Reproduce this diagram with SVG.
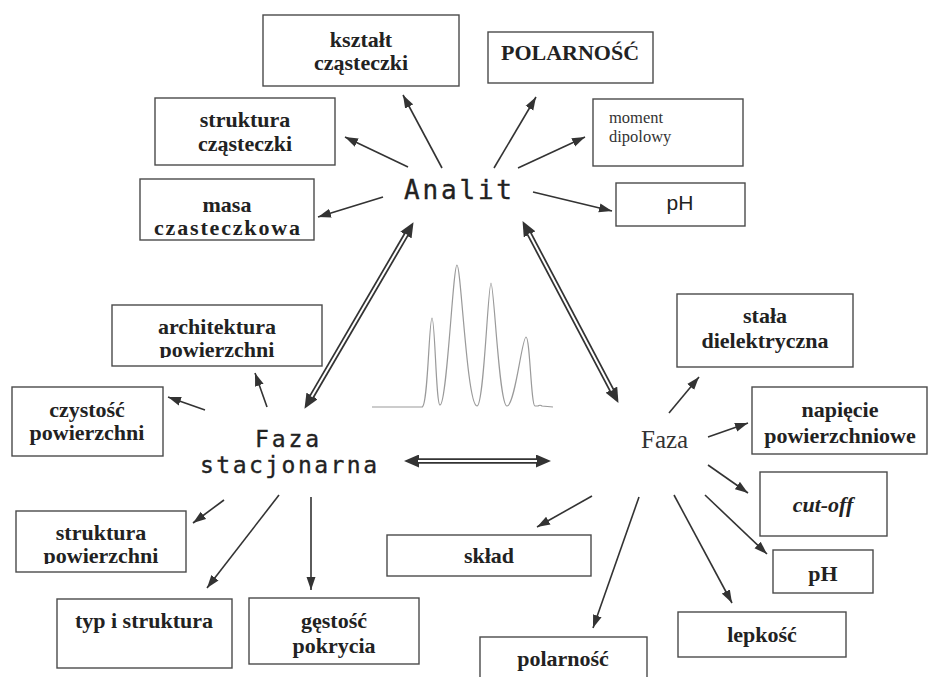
<svg xmlns="http://www.w3.org/2000/svg" width="937" height="677" viewBox="0 0 937 677">
<style>
  .box { fill: #fff; stroke: #4a4a4a; stroke-width: 1.4; }
  .lbl { font-family: "Liberation Serif", "Times New Roman", serif; font-weight: bold; font-size: 22px; fill: #222; text-anchor: middle; }
  .reg { font-family: "Liberation Serif", "Times New Roman", serif; font-size: 16.5px; fill: #333; }
  .sans { font-family: "Liberation Sans", Arial, sans-serif; font-size: 21px; fill: #222; text-anchor: middle; }
  .mono { font-family: "DejaVu Sans Mono", "Liberation Mono", monospace; fill: #222; stroke: #222; stroke-width: 0.35; }
  .arr { stroke: #333; stroke-width: 1.6; fill: none; marker-end: url(#ah); }
  .dbl { stroke: #333; stroke-width: 5.5; fill: none; marker-start: url(#dh); marker-end: url(#dh); }
  .dblin { stroke: #fff; stroke-width: 2; fill: none; }
  .chrom { stroke: #9a9a9a; stroke-width: 1.2; fill: none; }
</style>
<defs>
  <marker id="ah" markerUnits="userSpaceOnUse" markerWidth="14" markerHeight="10" refX="13" refY="5" orient="auto">
    <path d="M0,0.5 L13,5 L0,9.5 z" fill="#333"/>
  </marker>
  <marker id="dh" markerUnits="userSpaceOnUse" markerWidth="16" markerHeight="13" refX="1" refY="6.5" orient="auto-start-reverse">
    <path d="M0,0 L15,6.5 L0,13 z" fill="#333"/>
  </marker>
  <clipPath id="c7"><rect x="112" y="305" width="210" height="53"/></clipPath>
  <clipPath id="c9"><rect x="16" y="511" width="170" height="53"/></clipPath>
</defs>
<rect width="937" height="677" fill="#fff"/>

<!-- chromatogram -->
<g id="chromatogram">
  <path class="chrom" d="M372,407 L422,407 C428,407 429,318 432,318 C435,318 436,405 440,405 C447,405 453,265 457,265 C461,265 467,406 477,406 C484,406 488,283 491,283 C494,283 499,406 507,406 C515,406 522,337 526,337 C530,337 531,406 535,406 L538,406 C539,405 541,405 542,406 L553,407"/>
</g>

<g id="connectors">
  <!-- double arrows -->
  <line class="dbl" x1="406.45" y1="234.23" x2="311.55" y2="396.77"/>
  <line class="dblin" x1="406.45" y1="234.23" x2="311.55" y2="396.77"/>
  <line class="dbl" x1="529.07" y1="233.5" x2="611.93" y2="390.5"/>
  <line class="dblin" x1="529.07" y1="233.5" x2="611.93" y2="390.5"/>
  <line class="dbl" x1="418" y1="461" x2="537" y2="461"/>
  <line class="dblin" x1="418" y1="461" x2="537" y2="461"/>
  <!-- Analit -->
  <line class="arr" x1="442" y1="168" x2="403" y2="95"/>
  <line class="arr" x1="408" y1="167" x2="345" y2="137"/>
  <line class="arr" x1="383" y1="197" x2="318" y2="217"/>
  <line class="arr" x1="494" y1="168" x2="536" y2="97"/>
  <line class="arr" x1="518" y1="168" x2="585" y2="137"/>
  <line class="arr" x1="533" y1="192" x2="612" y2="211"/>
  <!-- Faza stacjonarna -->
  <line class="arr" x1="267" y1="407" x2="255" y2="373"/>
  <line class="arr" x1="205" y1="410" x2="168" y2="397"/>
  <line class="arr" x1="224" y1="500" x2="193" y2="523"/>
  <line class="arr" x1="279" y1="495" x2="207" y2="588"/>
  <line class="arr" x1="311" y1="497" x2="311" y2="590"/>
  <!-- Faza -->
  <line class="arr" x1="669" y1="413" x2="699" y2="377"/>
  <line class="arr" x1="708" y1="437" x2="748" y2="423"/>
  <line class="arr" x1="708" y1="465" x2="748" y2="493"/>
  <line class="arr" x1="705" y1="495" x2="767" y2="554"/>
  <line class="arr" x1="674" y1="495" x2="732" y2="603"/>
  <line class="arr" x1="639" y1="497" x2="593" y2="628"/>
  <line class="arr" x1="592" y1="496" x2="537" y2="527"/>
</g>

<!-- central nodes -->
<g id="analit">
  <text class="mono" x="404" y="199" font-size="26" textLength="108" lengthAdjust="spacing">Analit</text>
</g>
<g id="faza-stacjonarna">
  <text class="mono" x="255" y="447" font-size="23" textLength="64" lengthAdjust="spacing">Faza</text>
  <text class="mono" x="200" y="473" font-size="23" textLength="177" lengthAdjust="spacing">stacjonarna</text>
</g>
<g id="faza">
  <text x="641" y="448" font-family="'Liberation Serif', 'Times New Roman', serif" font-size="25" fill="#333">Faza</text>
</g>

<!-- Analit properties -->
<g id="ksztalt">
  <rect class="box" x="263" y="15" width="196" height="71"/>
  <text class="lbl" x="361" y="47">kształt</text>
  <text class="lbl" x="361" y="70">cząsteczki</text>
</g>
<g id="struktura-czasteczki">
  <rect class="box" x="155" y="98" width="180" height="67"/>
  <text class="lbl" x="245" y="127">struktura</text>
  <text class="lbl" x="245" y="151">cząsteczki</text>
</g>
<g id="masa">
  <rect class="box" x="140" y="179" width="174" height="61"/>
  <text class="lbl" x="227" y="212" font-size="21">masa</text>
  <text class="lbl" x="227" y="235" font-size="21" textLength="146" lengthAdjust="spacing">czasteczkowa</text>
</g>
<g id="polarnosc-analit">
  <rect class="box" x="488" y="32" width="165" height="51"/>
  <text class="lbl" x="570" y="60" font-size="21">POLARNOŚĆ</text>
</g>
<g id="moment">
  <rect class="box" x="593" y="99" width="150" height="67"/>
  <text class="reg" x="609" y="123">moment</text>
  <text class="reg" x="609" y="142">dipolowy</text>
</g>
<g id="ph-analit">
  <rect class="box" x="616" y="183" width="129" height="43"/>
  <text class="sans" x="680" y="210">pH</text>
</g>

<!-- Faza stacjonarna properties -->
<g id="architektura">
  <rect class="box" x="112" y="305" width="210" height="61"/>
  <text class="lbl" x="217" y="334">architektura</text>
  <text class="lbl" x="217" y="357" clip-path="url(#c7)">powierzchni</text>
</g>
<g id="czystosc">
  <rect class="box" x="12" y="387" width="151" height="69"/>
  <text class="lbl" x="87" y="417" font-size="20.5">czystość</text>
  <text class="lbl" x="87" y="440" font-size="20.5">powierzchni</text>
</g>
<g id="struktura-powierzchni">
  <rect class="box" x="16" y="511" width="170" height="61"/>
  <text class="lbl" x="101" y="540">struktura</text>
  <text class="lbl" x="101" y="563" clip-path="url(#c9)">powierzchni</text>
</g>
<g id="typ">
  <rect class="box" x="57" y="599" width="175" height="69"/>
  <text class="lbl" x="144" y="628">typ i struktura</text>
</g>
<g id="gestosc">
  <rect class="box" x="249" y="598" width="170" height="66"/>
  <text class="lbl" x="334" y="628">gęstość</text>
  <text class="lbl" x="334" y="653">pokrycia</text>
</g>

<!-- Faza properties -->
<g id="sklad">
  <rect class="box" x="387" y="535" width="204" height="41"/>
  <text class="lbl" x="489" y="563">skład</text>
</g>
<g id="polarnosc">
  <rect class="box" x="480" y="637" width="167" height="60"/>
  <text class="lbl" x="563" y="666">polarność</text>
</g>
<g id="stala">
  <rect class="box" x="677" y="294" width="176" height="73"/>
  <text class="lbl" x="765" y="323">stała</text>
  <text class="lbl" x="765" y="348">dielektryczna</text>
</g>
<g id="napiecie">
  <rect class="box" x="752" y="387" width="175" height="67"/>
  <text class="lbl" x="840" y="417">napięcie</text>
  <text class="lbl" x="840" y="443">powierzchniowe</text>
</g>
<g id="cutoff">
  <rect class="box" x="760" y="472" width="127" height="64"/>
  <text class="lbl" x="823" y="512" font-style="italic">cut-off</text>
</g>
<g id="ph-faza">
  <rect class="box" x="773" y="550" width="100" height="43"/>
  <text class="lbl" x="823" y="581" font-size="21">pH</text>
</g>
<g id="lepkosc">
  <rect class="box" x="678" y="612" width="168" height="45"/>
  <text class="lbl" x="762" y="642">lepkość</text>
</g>
</svg>
